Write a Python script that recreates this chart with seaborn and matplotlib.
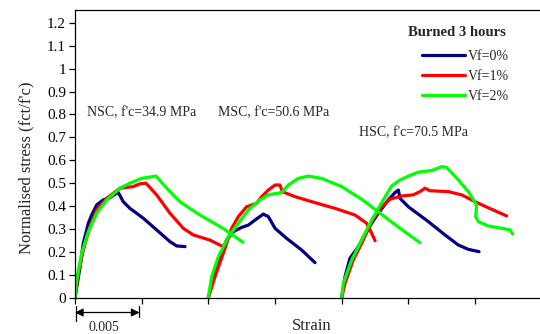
import numpy as np
import pandas as pd
import matplotlib
matplotlib.use("Agg")
import matplotlib.pyplot as plt
import seaborn as sns
from matplotlib.lines import Line2D

# ---------------- data ----------------
series_labels = ["Vf=0%", "Vf=1%", "Vf=2%"]
series_colors = ["#000080", "#ff0000", "#00ff00"]
grade_labels = ["NSC, f'c=34.9 MPa", "MSC, f'c=50.6 MPa", "HSC, f'c=70.5 MPa"]
legend_title = "Burned 3 hours"

nsc_vf0_x = [0, 0.00038, 0.00062, 0.001, 0.00125, 0.00163, 0.00212, 0.00262, 0.00313, 0.00325,
             0.00362, 0.00412, 0.00512, 0.00612, 0.00712, 0.00762, 0.00825]
nsc_vf0_y = [0, 0.135, 0.237, 0.325, 0.361, 0.405, 0.427, 0.437, 0.456, 0.459,
             0.419, 0.39, 0.347, 0.296, 0.245, 0.226, 0.223]
nsc_vf1_x = [0, 0.00025, 0.00062, 0.00112, 0.00163, 0.00238, 0.00337, 0.00437, 0.00487, 0.00532,
             0.00612, 0.00712, 0.00812, 0.00887, 0.0101, 0.011]
nsc_vf1_y = [0, 0.107, 0.208, 0.31, 0.383, 0.434, 0.478, 0.485, 0.497, 0.5,
             0.449, 0.369, 0.303, 0.274, 0.252, 0.226]
nsc_vf2_x = [0, 0.00013, 0.0005, 0.001, 0.00163, 0.00238, 0.00337, 0.00412, 0.005, 0.00607,
             0.00712, 0.00787, 0.00937, 0.0111, 0.0126]
nsc_vf2_y = [0, 0.077, 0.194, 0.288, 0.369, 0.427, 0.478, 0.5, 0.521, 0.531,
             0.463, 0.419, 0.361, 0.303, 0.242]

msc_vf0_x = [0.01, 0.01037, 0.01087, 0.01137, 0.01187, 0.0125, 0.013, 0.0135, 0.01412, 0.0145,
             0.015, 0.01587, 0.017, 0.018]
msc_vf0_y = [0, 0.092, 0.179, 0.252, 0.288, 0.307, 0.317, 0.339, 0.365, 0.354,
             0.303, 0.259, 0.208, 0.153]
msc_vf1_x = [0.01, 0.0105, 0.01112, 0.01175, 0.01225, 0.01287, 0.01362, 0.014, 0.0145, 0.015,
             0.01537, 0.01555, 0.0165, 0.018, 0.0195, 0.021, 0.02187, 0.02225, 0.0225]
msc_vf1_y = [0, 0.092, 0.194, 0.303, 0.354, 0.397, 0.412, 0.441, 0.47, 0.492,
             0.492, 0.463, 0.441, 0.415, 0.39, 0.361, 0.325, 0.281, 0.249]
msc_vf2_x = [0.01, 0.01025, 0.01075, 0.0115, 0.01225, 0.013, 0.01387, 0.0145, 0.0155, 0.016,
             0.01675, 0.0175, 0.0185, 0.02, 0.0215, 0.02387, 0.02587]
msc_vf2_y = [0, 0.092, 0.179, 0.266, 0.325, 0.383, 0.427, 0.449, 0.459, 0.492,
             0.521, 0.531, 0.521, 0.485, 0.43, 0.325, 0.24]

hsc_vf0_x = [0.02, 0.02025, 0.02062, 0.02125, 0.022, 0.02275, 0.0235, 0.024, 0.02425, 0.02437,
             0.025, 0.0265, 0.02775, 0.02875, 0.0295, 0.0303]
hsc_vf0_y = [0, 0.092, 0.172, 0.223, 0.303, 0.369, 0.427, 0.459, 0.47, 0.434,
             0.397, 0.332, 0.274, 0.23, 0.211, 0.201]
hsc_vf1_x = [0.02, 0.02025, 0.02087, 0.0215, 0.02225, 0.023, 0.02362, 0.0245, 0.02537, 0.02587,
             0.02625, 0.02662, 0.028, 0.029, 0.03, 0.03125, 0.03237]
hsc_vf1_y = [0, 0.063, 0.165, 0.237, 0.332, 0.397, 0.43, 0.444, 0.449, 0.463,
             0.478, 0.467, 0.463, 0.449, 0.419, 0.386, 0.357]
hsc_vf2_x = [0.02, 0.02012, 0.02075, 0.0215, 0.02225, 0.02312, 0.02375, 0.02437, 0.025, 0.02575,
             0.02675, 0.0275, 0.02787, 0.02875, 0.0295, 0.03012, 0.03005, 0.03025, 0.031, 0.032,
             0.03262, 0.03282]
hsc_vf2_y = [0, 0.063, 0.165, 0.252, 0.339, 0.427, 0.488, 0.514, 0.531, 0.548,
             0.555, 0.572, 0.569, 0.514, 0.463, 0.405, 0.354, 0.332, 0.313, 0.303,
             0.296, 0.278]

y_ticks = [0, 0.1, 0.2, 0.3, 0.4, 0.5, 0.6, 0.7, 0.8, 0.9, 1.0, 1.1, 1.2]
y_tick_labels = ["0", "0.1", "0.2", "0.3", "0.4", "0.5", "0.6", "0.7", "0.8", "0.9", "1", "1.1", "1.2"]
x_ticks = [0, 0.005, 0.01, 0.015, 0.02, 0.025, 0.03]
scale_bar_value = 0.005

curves = {
    ("NSC", "Vf=0%"): (nsc_vf0_x, nsc_vf0_y),
    ("NSC", "Vf=1%"): (nsc_vf1_x, nsc_vf1_y),
    ("NSC", "Vf=2%"): (nsc_vf2_x, nsc_vf2_y),
    ("MSC", "Vf=0%"): (msc_vf0_x, msc_vf0_y),
    ("MSC", "Vf=1%"): (msc_vf1_x, msc_vf1_y),
    ("MSC", "Vf=2%"): (msc_vf2_x, msc_vf2_y),
    ("HSC", "Vf=0%"): (hsc_vf0_x, hsc_vf0_y),
    ("HSC", "Vf=1%"): (hsc_vf1_x, hsc_vf1_y),
    ("HSC", "Vf=2%"): (hsc_vf2_x, hsc_vf2_y),
}

rows = []
for (grade, vf), (xs, ys) in curves.items():
    for i, (x, y) in enumerate(zip(xs, ys)):
        rows.append({"grade": grade, "Vf": vf, "strain": x, "stress": y, "order": i})
df = pd.DataFrame(rows)

# ---------------- style ----------------
sns.set_style("ticks")
plt.rcParams["font.family"] = ["Liberation Serif", "DejaVu Serif"]
plt.rcParams["axes.edgecolor"] = "black"
plt.rcParams["xtick.color"] = "black"
plt.rcParams["ytick.color"] = "black"

W, H = 540, 334
X0, Y0 = 75.0, 297.7          # pixel of data origin
PX_X = 66.7 / 0.005           # pixels per strain unit
PX_Y = 229.0                  # pixels per stress unit
fig = plt.figure(figsize=(W / 100, H / 100), dpi=100)
ax = fig.add_axes([X0 / W, (H - Y0) / H, (541.7 - X0) / W, (Y0 - 10) / H])

def dx(px):
    return (px - X0) / PX_X

def dy(py):
    return (Y0 - py) / PX_Y

palette = dict(zip(series_labels, series_colors))
for vf in series_labels:
    sub = df[df["Vf"] == vf]
    sns.lineplot(data=sub, x="strain", y="stress", hue="Vf", units="grade",
                 estimator=None, sort=False, palette=palette, linewidth=2.3,
                 legend=False, ax=ax)

ax.set_xlim(0, 0.035)
ax.set_ylim(0, 1.256)
ax.set_yticks(y_ticks)
ax.set_yticklabels(y_tick_labels)
ax.set_xticks(x_ticks)
ax.set_xticklabels([])
ax.tick_params(axis="y", direction="out", length=4.5, width=0.9, labelsize=11, pad=2)
ax.tick_params(axis="x", direction="out", length=4.5, width=0.9)
for s in ["left", "bottom", "top", "right"]:
    ax.spines[s].set_visible(True)
    ax.spines[s].set_linewidth(0.9)
    ax.spines[s].set_color("black")

ax.set_ylabel("Normalised stress (fct/f'c)", fontsize=12)
ax.yaxis.set_label_coords((34 - X0) / (541.7 - X0), (Y0 - 168) / (Y0 - 10))
ax.set_xlabel("")
fig.text(312 / W, 1 - 326 / H, "Strain", fontsize=12, ha="center", va="center")

# grade annotations
ax.text(dx(87), dy(113), grade_labels[0], fontsize=10, ha="left", va="center")
ax.text(dx(218), dy(113), grade_labels[1], fontsize=10, ha="left", va="center")
ax.text(dx(359), dy(133), grade_labels[2], fontsize=10, ha="left", va="center")

# legend
handles = [Line2D([], [], color=c, linewidth=2.3) for c in series_colors]
leg = ax.legend(handles, series_labels, frameon=False,
                loc="upper left", bbox_to_anchor=(421.7 / W, 1 - 50 / H),
                bbox_transform=fig.transFigure,
                fontsize=10, handlelength=3.15, handletextpad=0.17, labelspacing=0.5,
                borderaxespad=0, borderpad=0)
fig.text(506 / W, 1 - 32 / H, legend_title, fontsize=10.6, fontweight="bold",
         ha="right", va="center")

# 0.005 scale indicator below the axis
x_end = dx(139.5)
y_arr = dy(312.5)
ax.annotate("", xy=(0, y_arr), xytext=(x_end, y_arr), xycoords="data",
            arrowprops=dict(arrowstyle="<|-|>", color="black", lw=0.9,
                            shrinkA=0, shrinkB=0, mutation_scale=12),
            annotation_clip=False)
ax.plot([dx(76), dx(76)], [dy(306), dy(321)], color="black", lw=0.9, clip_on=False)
ax.plot([x_end, x_end], [dy(306), dy(317)], color="black", lw=0.9, clip_on=False)
ax.text(dx(104), dy(327.5), f"{scale_bar_value:.3f}", fontsize=10,
        ha="center", va="center", clip_on=False)

fig.savefig("out.png", dpi=100)
